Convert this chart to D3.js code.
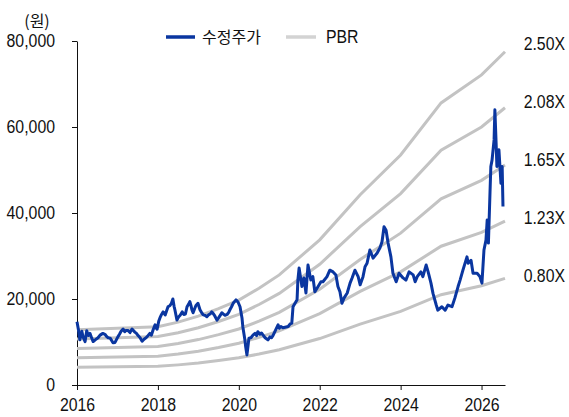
<!DOCTYPE html>
<html>
<head>
<meta charset="utf-8">
<script src="https://cdnjs.cloudflare.com/ajax/libs/d3/7.8.5/d3.min.js"></script>
<style>
  body { margin: 0; background: #fff; }
  .axis text { font-family: "Liberation Sans Narrow", "Arial Narrow", "Liberation Sans", sans-serif; font-size: 18px; fill: #111; }
  .axis path, .axis line { stroke: #111; stroke-width: 1; }
  .band { fill: none; stroke: #c3c3c3; stroke-width: 3; }
  .price { fill: none; stroke: #0a36a0; stroke-width: 3; stroke-linejoin: round; }
  .lbl { font-family: "Liberation Sans Narrow", "Arial Narrow", "Liberation Sans", sans-serif; font-size: 18px; fill: #111; }
  .kr { font-family: "Noto Sans CJK KR", sans-serif; font-size: 16px; fill: #111; }
</style>
</head>
<body>
<div id="chart"></div>
<script>
// book value per share (annual points, band = bps * multiple)
var bandYears = [2016, 2017, 2018, 2018.5, 2019, 2019.5, 2020, 2020.5, 2021, 2022, 2023, 2024, 2025, 2026, 2026.58];
var bps = [5150, 5280, 5420, 5850, 6400, 7100, 7900, 9000, 10240, 13500, 17700, 21400, 26240, 28850, 31000];
var multiples = [2.5, 2.08, 1.65, 1.23, 0.8];
var multipleLabels = ["2.50X", "2.08X", "1.65X", "1.23X", "0.80X"];

var yTicks = [0, 20000, 40000, 60000, 80000];
var xTicks = [2016, 2018, 2020, 2022, 2024, 2026];
var legendNames = ["수정주가", "PBR"];

// adjusted price, [decimal year, won]
var priceSeries = [
  [2016.00,14700],[2016.04,12600],[2016.07,10500],[2016.12,12500],[2016.15,11200],[2016.20,10100],
  [2016.24,12600],[2016.28,11500],[2016.32,12000],[2016.36,11000],[2016.40,10100],[2016.45,10500],
  [2016.52,11000],[2016.57,11600],[2016.64,12000],[2016.69,11800],[2016.74,11200],[2016.77,11000],
  [2016.82,10900],[2016.86,10300],[2016.89,9800],[2016.94,9900],[2017.01,11200],[2017.05,11800],
  [2017.09,12500],[2017.14,13000],[2017.18,12400],[2017.21,12700],[2017.26,12700],[2017.31,12200],
  [2017.36,13000],[2017.40,12600],[2017.43,12300],[2017.47,12000],[2017.51,11500],[2017.56,11000],
  [2017.61,10200],[2017.65,10600],[2017.68,10800],[2017.73,11200],[2017.80,12000],[2017.84,11600],
  [2017.88,12800],[2017.93,14000],[2017.96,13200],[2017.98,13000],[2018.02,14800],[2018.05,15600],
  [2018.09,16400],[2018.13,17000],[2018.18,16300],[2018.22,17400],[2018.25,18200],[2018.30,18500],
  [2018.33,18900],[2018.37,20000],[2018.40,18300],[2018.42,17500],[2018.47,15100],[2018.51,15800],
  [2018.55,16200],[2018.60,17000],[2018.64,16400],[2018.68,16500],[2018.72,18200],[2018.76,18800],
  [2018.79,19400],[2018.82,18400],[2018.84,17500],[2018.87,16800],[2018.91,17800],[2018.94,18500],
  [2018.99,19000],[2019.04,17500],[2019.09,16700],[2019.12,16300],[2019.16,16200],[2019.21,15900],
  [2019.25,16300],[2019.29,16500],[2019.33,17000],[2019.36,16700],[2019.41,16000],[2019.46,15100],
  [2019.50,15600],[2019.54,16200],[2019.58,16800],[2019.62,16500],[2019.66,16200],[2019.71,16400],
  [2019.75,16900],[2019.78,17500],[2019.82,18200],[2019.86,19000],[2019.93,19800],[2019.98,19300],
  [2020.03,18200],[2020.08,15500],[2020.10,13500],[2020.15,10500],[2020.17,8900],[2020.20,7000],
  [2020.22,8500],[2020.25,10900],[2020.30,11000],[2020.35,11600],[2020.40,12000],[2020.44,11500],
  [2020.47,12400],[2020.52,11800],[2020.56,12100],[2020.60,11600],[2020.65,11000],[2020.72,10500],
  [2020.77,11200],[2020.81,11000],[2020.85,11600],[2020.92,13000],[2020.97,14000],[2021.00,13200],
  [2021.04,13600],[2021.09,13300],[2021.17,13500],[2021.22,13600],[2021.27,14200],[2021.31,14400],
  [2021.34,18200],[2021.44,19800],[2021.46,24400],[2021.49,27200],[2021.56,22900],[2021.61,24900],
  [2021.66,21400],[2021.71,27900],[2021.78,24400],[2021.83,25200],[2021.88,21700],[2021.96,22900],
  [2022.03,24000],[2022.08,24000],[2022.18,25200],[2022.25,26700],[2022.33,26300],[2022.40,25600],
  [2022.45,22900],[2022.50,21700],[2022.55,19000],[2022.60,20200],[2022.68,21400],[2022.75,23700],
  [2022.80,24900],[2022.87,26700],[2022.95,25200],[2023.00,23300],[2023.07,25200],[2023.12,27500],
  [2023.17,28300],[2023.24,31400],[2023.32,29500],[2023.42,30700],[2023.49,31900],[2023.54,33300],
  [2023.59,36800],[2023.64,36000],[2023.69,33000],[2023.76,29800],[2023.81,26000],[2023.89,24000],
  [2023.96,26000],[2024.06,24900],[2024.13,24400],[2024.21,26300],[2024.31,25600],[2024.36,24000],
  [2024.41,25200],[2024.50,26300],[2024.55,25200],[2024.63,27900],[2024.68,26300],[2024.75,23700],
  [2024.80,21300],[2024.88,18600],[2024.92,17400],[2025.02,18200],[2025.10,17400],[2025.17,18600],
  [2025.27,18200],[2025.34,20200],[2025.42,22900],[2025.47,24400],[2025.54,26700],[2025.64,29800],
  [2025.67,28300],[2025.74,29000],[2025.79,26000],[2025.89,26000],[2025.96,25200],[2026.01,23700],
  [2026.06,31400],[2026.11,33700],[2026.14,38400],[2026.17,33000],[2026.21,45000],[2026.23,50800],
  [2026.26,52300],[2026.31,57000],[2026.33,64000],[2026.36,56300],[2026.38,50800],[2026.43,54700],
  [2026.48,46900],[2026.51,50800],[2026.53,41500]
];

var width = 569, height = 417;

var svg = d3.select("#chart").append("svg")
    .attr("width", width)
    .attr("height", height);

var xScale = d3.scaleLinear()
    .domain([2016, 2026.58])
    .range([77, 505]);

var yScale = d3.scaleLinear()
    .domain([0, 80000])
    .range([385, 41]);

// axes
var xAxis = d3.axisBottom(xScale)
    .tickValues(xTicks)
    .tickFormat(d3.format("d"))
    .tickSize(5)
    .tickSizeOuter(0)
    .tickPadding(8);

var yAxis = d3.axisLeft(yScale)
    .tickValues(yTicks)
    .tickFormat(d3.format(","))
    .tickSize(5)
    .tickSizeOuter(0)
    .tickPadding(17);

svg.append("g")
    .attr("class", "axis")
    .attr("transform", "translate(0," + yScale(0) + ")")
    .call(xAxis);

svg.append("g")
    .attr("class", "axis")
    .attr("transform", "translate(" + xScale(2016) + ",0)")
    .call(yAxis);

// PBR bands
var bandLine = d3.line()
    .x(function(d){ return xScale(d[0]); })
    .y(function(d){ return yScale(d[1]); });

svg.append("g").selectAll(".band")
    .data(multiples)
    .enter().append("path")
    .attr("class", "band")
    .attr("d", function(m){
        return bandLine(bandYears.map(function(yr, i){ return [yr, bps[i] * m]; }));
    });

// price line
svg.append("path")
    .datum(priceSeries)
    .attr("class", "price")
    .attr("d", bandLine);

// multiple labels on the right (scaled to look narrow)
svg.append("g").selectAll("text")
    .data(multipleLabels)
    .enter().append("text")
    .attr("class", "lbl")
    .attr("transform", function(d, i){ return "translate(565," + (50 + i * 58) + ") scale(0.88,1)"; })
    .style("text-anchor", "end")
    .text(function(d){ return d; });

// unit
svg.append("text")
    .attr("class", "kr")
    .attr("x", 37)
    .attr("y", 27)
    .style("text-anchor", "middle")
    .text("(원)");

// legend
var legend = svg.append("g").attr("transform", "translate(166,37)");
legend.append("line").attr("x1", 0).attr("x2", 29).attr("y1", 0).attr("y2", 0)
    .style("stroke", "#0a36a0").style("stroke-width", 3.5);
legend.append("text").attr("class", "kr").attr("x", 36).attr("y", 6).text(legendNames[0]);
legend.append("line").attr("x1", 120).attr("x2", 150).attr("y1", 0).attr("y2", 0)
    .style("stroke", "#d3d3d3").style("stroke-width", 3.5);
legend.append("text").attr("x", 160).attr("y", 6)
    .attr("class", "lbl")
    .attr("transform", "translate(160,6) scale(0.88,1)")
    .attr("x", 0).attr("y", 0)
    .text(legendNames[1]);

// narrow look for axis labels
svg.selectAll(".axis text").each(function(){
    var len = this.getComputedTextLength();
    d3.select(this).attr("textLength", len * 0.88).attr("lengthAdjust", "spacingAndGlyphs");
});
</script>
</body>
</html>
